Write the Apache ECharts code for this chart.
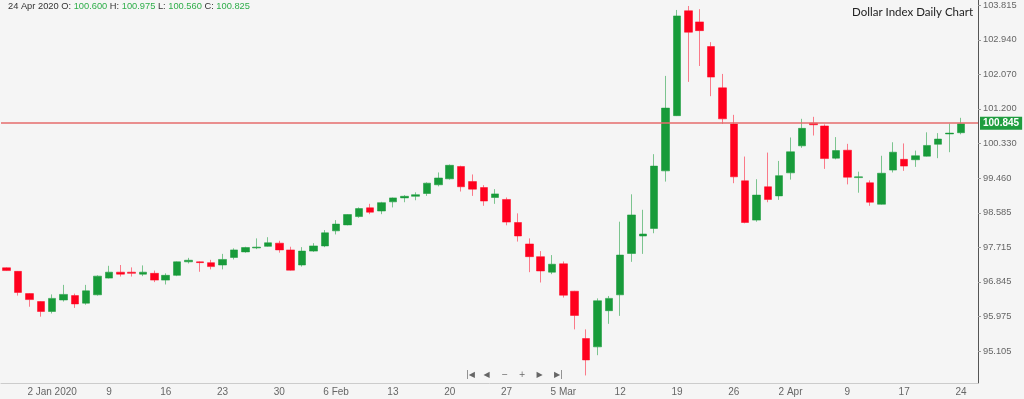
<!DOCTYPE html>
<html>
<head>
<meta charset="utf-8">
<title>Dollar Index Daily Chart</title>
<script src="https://cdn.jsdelivr.net/npm/echarts@6/dist/echarts.min.js"></script>
<style>
html, body { margin: 0; padding: 0; background: #f5f5f5; }
#chart { width: 1024px; height: 399px; }
</style>
</head>
<body>
<div id="chart"></div>
<script>
// trading days shown on the chart (Good Friday 10 Apr is missing)
const dates = [
  '2019-12-26', '2019-12-27', '2019-12-30', '2019-12-31',
  '2020-01-02', '2020-01-03', '2020-01-06', '2020-01-07', '2020-01-08', '2020-01-09', '2020-01-10',
  '2020-01-13', '2020-01-14', '2020-01-15', '2020-01-16', '2020-01-17',
  '2020-01-20', '2020-01-21', '2020-01-22', '2020-01-23', '2020-01-24',
  '2020-01-27', '2020-01-28', '2020-01-29', '2020-01-30', '2020-01-31',
  '2020-02-03', '2020-02-04', '2020-02-05', '2020-02-06', '2020-02-07',
  '2020-02-10', '2020-02-11', '2020-02-12', '2020-02-13', '2020-02-14',
  '2020-02-17', '2020-02-18', '2020-02-19', '2020-02-20', '2020-02-21',
  '2020-02-24', '2020-02-25', '2020-02-26', '2020-02-27', '2020-02-28',
  '2020-03-02', '2020-03-03', '2020-03-04', '2020-03-05', '2020-03-06',
  '2020-03-09', '2020-03-10', '2020-03-11', '2020-03-12', '2020-03-13',
  '2020-03-16', '2020-03-17', '2020-03-18', '2020-03-19', '2020-03-20',
  '2020-03-23', '2020-03-24', '2020-03-25', '2020-03-26', '2020-03-27',
  '2020-03-30', '2020-03-31', '2020-04-01', '2020-04-02', '2020-04-03',
  '2020-04-06', '2020-04-07', '2020-04-08', '2020-04-09',
  '2020-04-13', '2020-04-14', '2020-04-15', '2020-04-16', '2020-04-17',
  '2020-04-20', '2020-04-21', '2020-04-22', '2020-04-23', '2020-04-24'
];

const opens = [
  97.20, 97.11, 96.55, 96.35,
  96.10, 96.39, 96.50, 96.31, 96.52, 96.94, 97.09,
  97.09, 97.04, 97.06, 96.89, 97.01,
  97.35, 97.35, 97.33, 97.27, 97.46,
  97.60, 97.70, 97.74, 97.82, 97.65,
  97.27, 97.62, 97.75, 98.13, 98.28,
  98.49, 98.71, 98.63, 98.86, 98.96,
  99.00, 99.07, 99.29, 99.44, 99.75,
  99.37, 99.22, 98.97, 98.92, 98.34,
  97.80, 97.48, 97.09, 97.30, 96.61,
  95.42, 95.21, 96.12, 96.52, 97.56,
  98.00, 98.19, 99.64, 101.03, 103.67,
  103.39, 102.77, 101.73, 100.82, 99.39,
  98.40, 99.24, 99.01, 99.59, 100.27,
  100.84, 100.77, 99.96, 100.16,
  99.47, 99.34, 98.80, 99.66, 99.93,
  99.92, 100.01, 100.31, 100.57, 100.600
];
const closes = [
  97.13, 96.58, 96.40, 96.10,
  96.43, 96.53, 96.29, 96.62, 96.99, 97.09, 97.04,
  97.06, 97.09, 96.89, 97.01, 97.35,
  97.39, 97.33, 97.23, 97.41, 97.65,
  97.71, 97.72, 97.83, 97.65, 97.14,
  97.62, 97.75, 98.08, 98.30, 98.54,
  98.69, 98.60, 98.84, 98.96, 99.00,
  99.04, 99.33, 99.46, 99.78, 99.24,
  99.18, 98.88, 99.06, 98.35, 98.00,
  97.48, 97.12, 97.29, 96.51, 96.00,
  94.88, 96.37, 96.43, 97.52, 98.53,
  98.05, 99.76, 101.22, 103.54, 103.13,
  103.17, 102.00, 100.95, 99.49, 98.34,
  99.03, 98.92, 99.52, 100.12, 100.71,
  100.80, 99.95, 100.15, 99.48,
  99.49, 98.85, 99.58, 100.11, 99.76,
  100.02, 100.28, 100.44, 100.59, 100.825
];
const lows = [
  97.12, 96.50, 96.22, 95.97,
  96.05, 96.35, 96.19, 96.27, 96.50, 96.93, 96.98,
  96.98, 96.99, 96.84, 96.78, 96.99,
  97.31, 97.10, 97.16, 97.16, 97.41,
  97.58, 97.67, 97.73, 97.58, 97.13,
  97.23, 97.60, 97.72, 98.04, 98.27,
  98.46, 98.55, 98.55, 98.72, 98.85,
  98.90, 99.01, 99.25, 99.42, 99.12,
  99.01, 98.76, 98.81, 98.27, 97.86,
  97.09, 96.83, 97.04, 96.45, 95.65,
  94.49, 95.00, 95.79, 95.99, 97.35,
  97.55, 98.07, 99.37, 101.02, 101.88,
  102.28, 101.52, 100.82, 99.33, 98.32,
  98.36, 98.85, 98.91, 99.42, 100.22,
  100.53, 99.69, 99.93, 99.30,
  99.09, 98.76, 98.79, 99.60, 99.64,
  99.74, 100.00, 99.96, 100.11, 100.560
];
const highs = [
  97.21, 97.12, 96.56, 96.36,
  96.53, 96.77, 96.55, 96.77, 97.01, 97.25, 97.27,
  97.21, 97.26, 97.13, 97.06, 97.36,
  97.45, 97.36, 97.40, 97.55, 97.69,
  97.73, 97.94, 97.97, 97.88, 97.73,
  97.72, 97.82, 98.15, 98.40, 98.55,
  98.72, 98.81, 98.86, 98.97, 99.03,
  99.10, 99.35, 99.60, 99.80, 99.77,
  99.55, 99.28, 99.18, 98.97, 98.57,
  97.94, 97.62, 97.52, 97.36, 96.62,
  95.65, 96.43, 96.49, 98.36, 99.05,
  98.66, 100.06, 102.03, 103.69, 103.79,
  103.71, 102.88, 102.08, 101.05, 100.00,
  99.43, 100.10, 99.89, 100.48, 100.95,
  101.00, 100.81, 100.49, 100.32,
  99.62, 99.40, 100.02, 100.36, 100.33,
  100.15, 100.61, 100.59, 100.83, 100.975
];

const tickDates = [
  '2020-01-02', '2020-01-09', '2020-01-16', '2020-01-23', '2020-01-30',
  '2020-02-06', '2020-02-13', '2020-02-20', '2020-02-27',
  '2020-03-05', '2020-03-12', '2020-03-19', '2020-03-26',
  '2020-04-02', '2020-04-09', '2020-04-17', '2020-04-24'
];
const tickTexts = [
  '2 Jan 2020', '9', '16', '23', '30',
  '6 Feb', '13', '20', '27',
  '5 Mar', '12', '19', '26',
  '2 Apr', '9', '17', '24'
];
const yTicks = [95.105, 95.975, 96.845, 97.715, 98.585, 99.460, 100.330, 101.200, 102.070, 102.940, 103.815];
const lastPrice = 100.845;
const headerDate = '24 Apr 2020';
const navGlyphs = ['|\u25C0', '\u25C0', '\u2212', '+', '\u25B6', '\u25B6|'];

const green = '#189b3a';
const red = '#ff001e';

let chart = echarts.init(document.getElementById('chart'));

let candles = dates.map((d, i) => [opens[i], closes[i], lows[i], highs[i]]);
let n = dates.length - 1;
let fmt = (v) => v.toFixed(3);
let header = '{d|' + headerDate + ' O: }{v|' + fmt(opens[n]) + '}{d| H: }{v|' + fmt(highs[n]) +
  '}{d| L: }{v|' + fmt(lows[n]) + '}{d| C: }{v|' + fmt(closes[n]) + '}';

let showTick = (index) => tickDates.indexOf(dates[index]) >= 0;

let option = {
  backgroundColor: '#f5f5f5',
  animation: false,
  title: [
    {
      text: header,
      left: 8,
      top: 2,
      padding: 0,
      textStyle: {
        fontFamily: 'Liberation Sans',
        fontSize: 9.3,
        fontWeight: 'normal',
        rich: {
          d: { color: '#333', fontSize: 9.3, fontFamily: 'Liberation Sans' },
          v: { color: '#2fae4a', fontSize: 9.3, fontFamily: 'Liberation Sans' }
        }
      }
    },
    {
      text: 'Dollar Index Daily Chart',
      right: 51,
      top: 6,
      padding: 0,
      textStyle: {
        fontFamily: 'Lato',
        fontSize: 11.5,
        fontWeight: 'normal',
        color: '#222'
      }
    }
  ],
  grid: {
    left: 1,
    right: 46,
    top: 0,
    bottom: 16
  },
  xAxis: {
    type: 'category',
    data: dates,
    max: dates.length,
    boundaryGap: true,
    axisLine: { lineStyle: { color: '#cccccc' } },
    axisTick: {
      alignWithLabel: true,
      interval: showTick,
      length: 3,
      lineStyle: { color: '#cccccc' }
    },
    axisLabel: {
      interval: showTick,
      margin: 4,
      color: '#666',
      fontSize: 10,
      fontFamily: 'Liberation Sans',
      formatter: (value) => {
        let k = tickDates.indexOf(value);
        return k >= 0 ? tickTexts[k] : '';
      }
    },
    splitLine: { show: false }
  },
  yAxis: {
    type: 'value',
    position: 'right',
    scale: true,
    min: 94.30,
    max: 103.941,
    axisLine: { show: true, lineStyle: { color: '#555' } },
    axisTick: {
      show: true,
      length: 3,
      customValues: yTicks,
      lineStyle: { color: '#999' }
    },
    axisLabel: {
      customValues: yTicks,
      margin: 5,
      color: '#666',
      fontSize: 9.3,
      fontFamily: 'Liberation Sans',
      formatter: (v) => v.toFixed(3)
    },
    splitLine: { show: false }
  },
  graphic: navGlyphs.map((g, i) => ({
    type: 'text',
    left: 466 + i * 17.6,
    top: 371,
    style: {
      text: g,
      fill: '#666',
      font: '8px DejaVu Sans'
    }
  })),
  series: [
    {
      type: 'candlestick',
      data: candles,
      barWidth: 8,
      itemStyle: {
        color: green,
        color0: red,
        borderColor: 'rgba(24,155,58,0.55)',
        borderColor0: 'rgba(255,0,30,0.5)',
        borderWidth: 1
      },
      markLine: {
        silent: true,
        symbol: ['none', 'none'],
        lineStyle: { color: '#e46b6b', width: 1.5, type: 'solid' },
        label: {
          position: 'end',
          distance: 2,
          formatter: () => fmt(lastPrice),
          backgroundColor: '#1f9d3f',
          color: '#fff',
          fontSize: 10,
          fontWeight: 'bold',
          fontFamily: 'Liberation Sans',
          padding: [2, 3, 1, 3]
        },
        data: [{ yAxis: lastPrice }]
      }
    }
  ]
};

chart.setOption(option);
</script>
</body>
</html>
